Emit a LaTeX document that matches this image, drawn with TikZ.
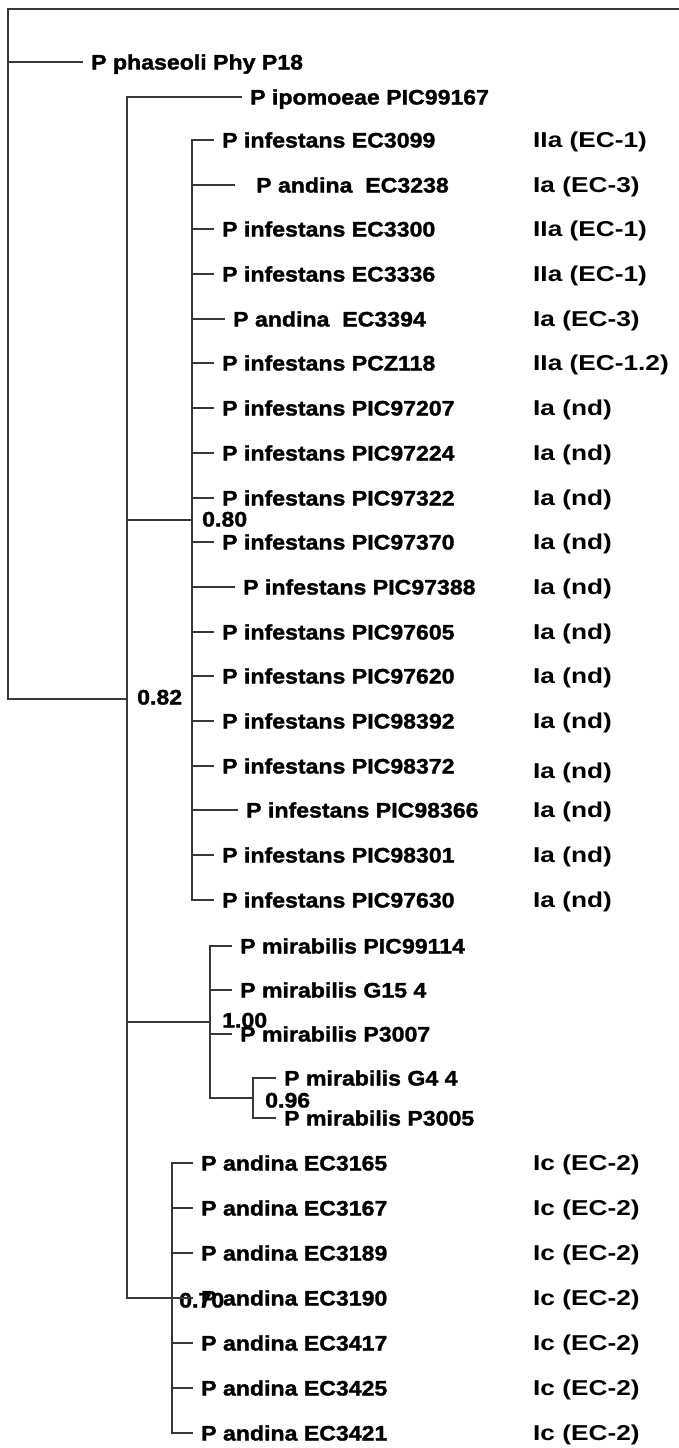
\documentclass[tikz,border=0pt]{standalone}
\usepackage{fontspec}
\newfontfamily\taxfont{Liberation Sans}[FakeStretch=1.1, FakeBold=1.5]
\newfontfamily\grpfont{Liberation Sans}[FakeStretch=1.22]
\tikzset{
  br/.style={line width=2pt, draw=black!78, line cap=rect},
  taxon/.style={anchor=west, inner xsep=9pt, inner ysep=0pt, text height=15pt, text depth=0pt,
    font=\taxfont\bfseries\fontsize{21}{21}\selectfont},
  grp/.style={anchor=west, inner sep=0pt, text height=15pt, text depth=0pt,
    font=\grpfont\bfseries\fontsize{21.5}{21.5}\selectfont},
  supp/.style={anchor=west, inner sep=0pt, text height=15pt, text depth=0pt,
    font=\taxfont\bfseries\fontsize{21}{21}\selectfont},
}
\begin{document}
\begin{tikzpicture}[x=1pt,y=-1pt]
\useasboundingbox (0,0) rectangle (678,1448);
% tree nodes
\coordinate (fr1) at (678,9);
\coordinate (fr0) at (8,9);
\coordinate (root) at (8,699);
\coordinate (main) at (127,699);
\coordinate (inf) at (192,520);
\coordinate (mir) at (210,1022);
\coordinate (mirb) at (253,1098);
\coordinate (andn) at (172,1298);
% leaves
\node[taxon] (phas) at (82,62) {P phaseoli Phy P18};
\node[taxon] (ipo) at (241,97) {P ipomoeae PIC99167};
\node[taxon] (i1) at (213,140) {P infestans EC3099};
\node[taxon] (i2) at (234,185) {\hspace*{13pt}P andina\ \ EC3238};
\node[taxon] (i3) at (213,229) {P infestans EC3300};
\node[taxon] (i4) at (213,274) {P infestans EC3336};
\node[taxon] (i5) at (224,319) {P andina\ \ EC3394};
\node[taxon] (i6) at (213,363) {P infestans PCZ118};
\node[taxon] (i7) at (213,408) {P infestans PIC97207};
\node[taxon] (i8) at (213,453) {P infestans PIC97224};
\node[taxon] (i9) at (213,498) {P infestans PIC97322};
\node[taxon] (i10) at (213,542) {P infestans PIC97370};
\node[taxon] (i11) at (234,587) {P infestans PIC97388};
\node[taxon] (i12) at (213,632) {P infestans PIC97605};
\node[taxon] (i13) at (213,676) {P infestans PIC97620};
\node[taxon] (i14) at (213,721) {P infestans PIC98392};
\node[taxon] (i15) at (213,766) {P infestans PIC98372};
\node[taxon] (i16) at (237,810) {P infestans PIC98366};
\node[taxon] (i17) at (213,855) {P infestans PIC98301};
\node[taxon] (i18) at (213,900) {P infestans PIC97630};
\node[taxon] (m1) at (231,946) {P mirabilis PIC99114};
\node[taxon] (m2) at (231,990) {P mirabilis G15 4};
\node[taxon] (m3) at (231,1034) {P mirabilis P3007};
\node[taxon] (m4) at (275,1078) {P mirabilis G4 4};
\node[taxon] (m5) at (275,1118) {P mirabilis P3005};
\node[taxon] (a1) at (192,1163) {P andina EC3165};
\node[taxon] (a2) at (192,1208) {P andina EC3167};
\node[taxon] (a3) at (192,1253) {P andina EC3189};
\node[taxon] (a4) at (192,1298) {P andina EC3190};
\node[taxon] (a5) at (192,1343) {P andina EC3417};
\node[taxon] (a6) at (192,1388) {P andina EC3425};
\node[taxon] (a7) at (192,1433) {P andina EC3421};
% support values
\node[supp] (s82) at (137,697) {0.82};
\node[supp] (s80) at (202,519) {0.80};
\node[supp] (s100) at (222,1020) {1.00};
\node[supp] (s96) at (265,1100) {0.96};
\node[supp] (s70) at (179,1300) {0.70};
% group labels
\node[grp] (g1) at (533,140) {IIa (EC-1)};
\node[grp] (g2) at (533,185) {Ia (EC-3)};
\node[grp] (g3) at (533,229) {IIa (EC-1)};
\node[grp] (g4) at (533,274) {IIa (EC-1)};
\node[grp] (g5) at (533,319) {Ia (EC-3)};
\node[grp] (g6) at (533,363) {IIa (EC-1.2)};
\node[grp] (g7) at (533,408) {Ia (nd)};
\node[grp] (g8) at (533,453) {Ia (nd)};
\node[grp] (g9) at (533,498) {Ia (nd)};
\node[grp] (g10) at (533,542) {Ia (nd)};
\node[grp] (g11) at (533,587) {Ia (nd)};
\node[grp] (g12) at (533,632) {Ia (nd)};
\node[grp] (g13) at (533,676) {Ia (nd)};
\node[grp] (g14) at (533,721) {Ia (nd)};
\node[grp] (g15) at (533,771) {Ia (nd)};
\node[grp] (g16) at (533,810) {Ia (nd)};
\node[grp] (g17) at (533,855) {Ia (nd)};
\node[grp] (g18) at (533,900) {Ia (nd)};
\node[grp] (g19) at (533,1163) {Ic (EC-2)};
\node[grp] (g20) at (533,1208) {Ic (EC-2)};
\node[grp] (g21) at (533,1253) {Ic (EC-2)};
\node[grp] (g22) at (533,1298) {Ic (EC-2)};
\node[grp] (g23) at (533,1343) {Ic (EC-2)};
\node[grp] (g24) at (533,1388) {Ic (EC-2)};
\node[grp] (g25) at (533,1433) {Ic (EC-2)};
% frame
\draw[br] (fr1) -- (fr0) -- (root |- phas.west);
% root
\draw[br] (phas.west) -- (root |- phas.west) -- (root) -- (main);
% main stem
\draw[br] (main |- ipo.west) -- (main |- andn);
\draw[br] (main |- ipo.west) -- (ipo.west);
\draw[br] (main |- inf) -- (inf);
\draw[br] (main |- mir) -- (mir);
\draw[br] (main |- andn) -- (andn);
% infestans clade
\draw[br] (inf |- i1.west) -- (inf |- i18.west);
\foreach \n in {i1,i2,i3,i4,i5,i6,i7,i8,i9,i10,i11,i12,i13,i14,i15,i16,i17,i18}
  \draw[br] (inf |- \n.west) -- (\n.west);
% mirabilis clade
\draw[br] (mir |- m1.west) -- (mir |- mirb);
\foreach \n in {m1,m2,m3}
  \draw[br] (mir |- \n.west) -- (\n.west);
\draw[br] (mir |- mirb) -- (mirb);
\draw[br] (mirb |- m4.west) -- (mirb |- m5.west);
\foreach \n in {m4,m5}
  \draw[br] (mirb |- \n.west) -- (\n.west);
% andina clade
\draw[br] (andn |- a1.west) -- (andn |- a7.west);
\foreach \n in {a1,a2,a3,a4,a5,a6,a7}
  \draw[br] (andn |- \n.west) -- (\n.west);
\end{tikzpicture}
\end{document}
